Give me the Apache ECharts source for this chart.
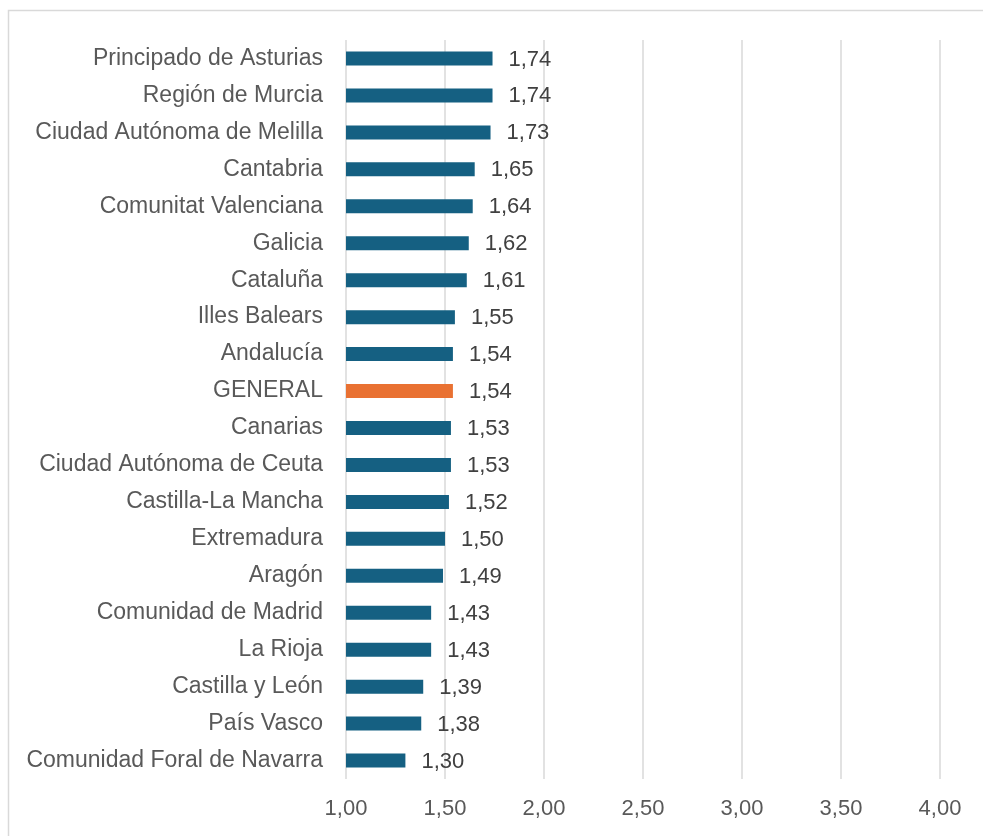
<!DOCTYPE html>
<html>
<head>
<meta charset="utf-8">
<script src="https://cdn.jsdelivr.net/npm/echarts@6/dist/echarts.min.js"></script>
<style>
  html, body { margin: 0; padding: 0; background: #fff; }
  #chart { width: 983px; height: 836px; }
</style>
</head>
<body>
<div id="chart"></div>
<script>
// regiones, de arriba a abajo
var regions = [
    'Principado de Asturias', 'Región de Murcia', 'Ciudad Autónoma de Melilla',
    'Cantabria', 'Comunitat Valenciana', 'Galicia', 'Cataluña', 'Illes Balears',
    'Andalucía', 'GENERAL', 'Canarias', 'Ciudad Autónoma de Ceuta',
    'Castilla-La Mancha', 'Extremadura', 'Aragón', 'Comunidad de Madrid',
    'La Rioja', 'Castilla y León', 'País Vasco', 'Comunidad Foral de Navarra'
];
var values = [
    1.74, 1.74, 1.73, 1.65, 1.64, 1.62, 1.61, 1.55, 1.54, 1.54,
    1.53, 1.53, 1.52, 1.50, 1.49, 1.43, 1.43, 1.39, 1.38, 1.30
];
var highlight = 'GENERAL';

var axisMin = 1.00;
var axisMax = 4.00;
var axisStep = 0.50;

function fmt(v) {
    return v.toFixed(2).replace('.', ',');
}

var barData = [];
for (var i = 0; i < regions.length; ++i) {
    barData.push({
        value: values[i],
        itemStyle: { color: regions[i] === highlight ? '#E97132' : '#156082' }
    });
}

var dom = document.getElementById('chart');
var myChart = echarts.init(dom);
var option = {
    animation: false,
    textStyle: { fontFamily: 'Liberation Sans' },
    graphic: [{
        type: 'rect',
        shape: { x: 8.5, y: 10.5, width: 1000, height: 900 },
        style: { fill: 'none', stroke: '#d9d9d9', lineWidth: 1.5 },
        silent: true
    }],
    grid: {
        left: 346,
        right: 43,
        top: 40,
        bottom: 57
    },
    xAxis: {
        type: 'value',
        min: axisMin,
        max: axisMax,
        interval: axisStep,
        axisLine: { show: false },
        axisTick: { show: false },
        splitLine: { lineStyle: { color: '#d9d9d9', width: 1.5 } },
        axisLabel: {
            color: '#595959',
            fontSize: 22,
            margin: 19,
            formatter: function (v) { return fmt(v); }
        }
    },
    yAxis: {
        type: 'category',
        inverse: true,
        data: regions,
        axisLine: { show: false },
        axisTick: { show: false },
        axisLabel: {
            color: '#595959',
            fontSize: 23,
            margin: 23
        }
    },
    series: [{
        type: 'bar',
        data: barData,
        barWidth: 14,
        label: {
            show: true,
            position: 'right',
            distance: 16,
            color: '#404040',
            fontSize: 22,
            offset: [0, 1],
            formatter: function (p) { return fmt(p.value); }
        }
    }]
};
myChart.setOption(option, true);
</script>
</body>
</html>
